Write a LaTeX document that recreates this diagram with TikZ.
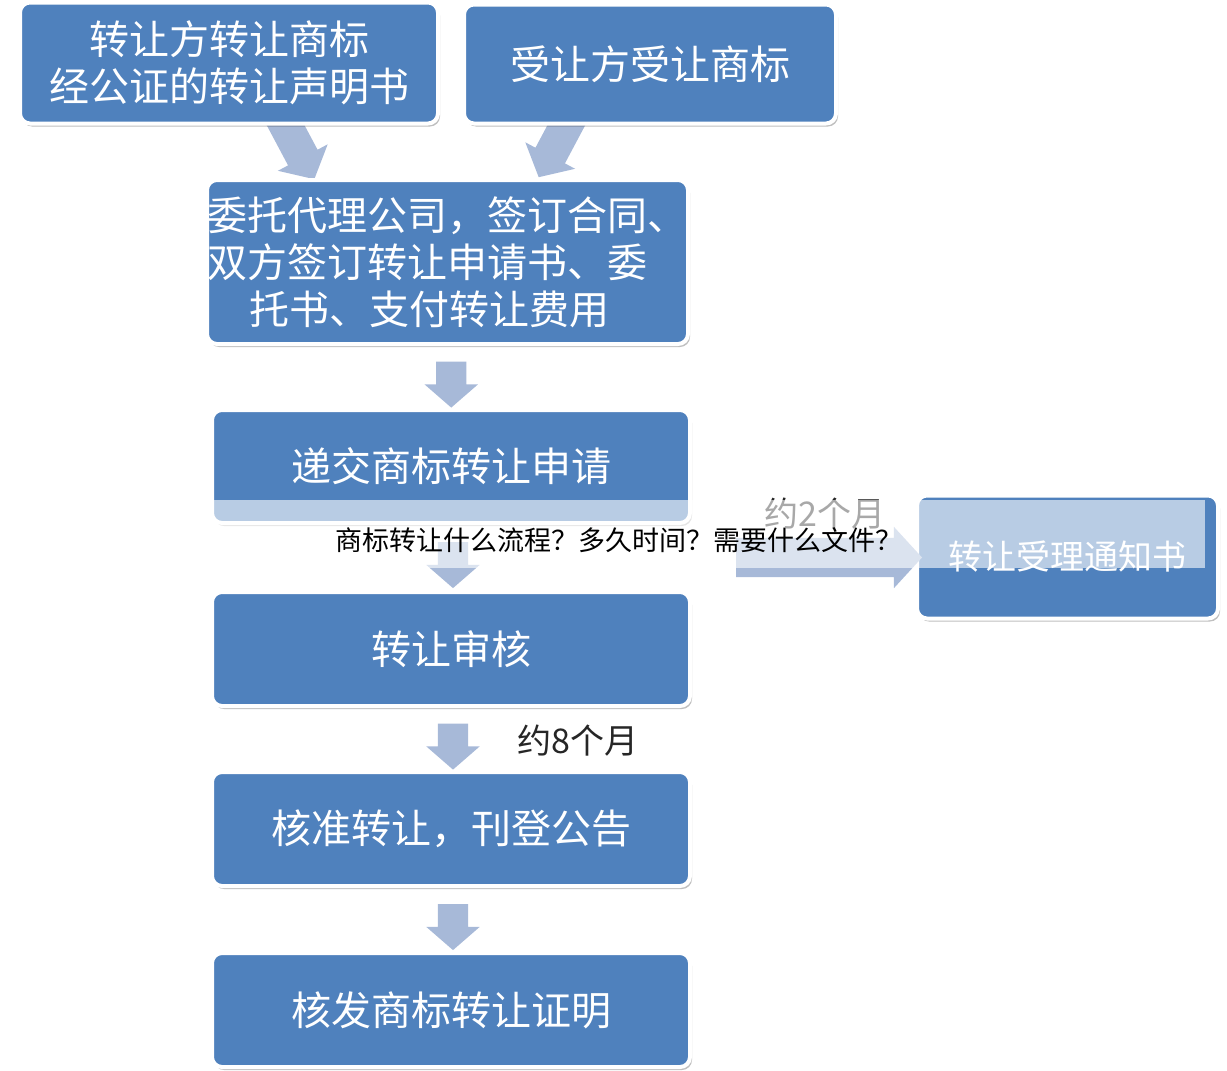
\documentclass[tikz,border=0pt]{standalone}
\usepackage{fontspec}
\newfontfamily\cjk{Noto Sans CJK SC}
\usetikzlibrary{shapes.arrows,shadows,calc}
\definecolor{boxblue}{RGB}{79,129,189}
\definecolor{arrowblue}{RGB}{167,185,216}
\begin{document}
\begin{tikzpicture}[x=1pt,y=-1pt,
  stepbox/.style={rectangle,draw=white,line width=4pt,fill=boxblue,rounded corners=10pt,
    text=white,inner sep=0pt,align=center,font=\cjk\fontsize{40}{47}\selectfont,
    drop shadow={shadow xshift=2pt,shadow yshift=-3pt,opacity=0.25,fill=black}},
  blockarrow/.style={single arrow,fill=arrowblue,inner xsep=0pt,inner ysep=15pt,
    single arrow head extend=11.5pt,single arrow tip angle=98,minimum height=46pt},
  note/.style={font=\cjk\fontsize{34}{40}\selectfont,text=black!85,inner sep=0pt}]

  \useasboundingbox (0,0) rectangle (1227,1071);

  % slanted arrows behind the top boxes
  \node[blockarrow,rotate=-62,minimum height=72pt,inner ysep=16.5pt] (t1) at (294,141) {};
  \node[blockarrow,rotate=-118,minimum height=72pt,inner ysep=16.5pt] (t2) at (559,139) {};

  \node[stepbox,minimum width=418pt,minimum height=121pt] (1) at (229,63)
    {转让方转让商标\\经公证的转让声明书};
  \node[stepbox,minimum width=372pt,minimum height=119pt] (2) at (650,64) {受让方受让商标};
  \node[stepbox,minimum width=481pt,minimum height=164pt,align=left] (3) at (447.5,262)
    {委托代理公司，签订合同、\\双方签订转让申请书、委\\\hspace*{42pt}托书、支付转让费用};
  \node[stepbox,minimum width=478pt,minimum height=113pt] (4) at (451,466.5) {递交商标转让申请};
  \node[stepbox,minimum width=301pt,minimum height=123pt,font=\cjk\fontsize{34}{40}\selectfont]
    (5) at (1067.5,557) {转让受理通知书};
  \node[stepbox,minimum width=478pt,minimum height=114pt] (6) at (451,649) {转让审核};
  \node[stepbox,minimum width=478pt,minimum height=114pt] (7) at (451,829) {核准转让，刊登公告};
  \node[stepbox,minimum width=478pt,minimum height=114pt] (8) at (451,1010) {核发商标转让证明};

  % arrows down the chain
  \node[blockarrow,rotate=-90] (a1) at ($(3.south)!0.5!(4.north)+(2,1)$) {};
  \node[blockarrow,rotate=-90] (a2) at ($(4.south)!0.5!(6.north)+(2,1)$) {};
  \node[blockarrow,rotate=-90] (a3) at ($(6.south)!0.5!(7.north)+(2,1)$) {};
  \node[blockarrow,rotate=-90] (a4) at ($(7.south)!0.5!(8.north)+(2,1)$) {};
  \node[blockarrow,minimum height=186pt,inner ysep=19.5pt,single arrow head extend=11pt,
    single arrow tip angle=95] (a5) at (820,557.5) {};

  \node[note] (m2) at (825,514) {约2个月};
  \node[note] (m8) at (578,741) {约8个月};

  % light band over the middle
  \fill[white,opacity=0.6] (208,500) rectangle (1205,568);
  \node[font=\cjk\fontsize{27}{30}\selectfont,inner sep=0pt] (w) at (619,540)
    {商标转让什么流程？多久时间？需要什么文件？};
\end{tikzpicture}
\end{document}
